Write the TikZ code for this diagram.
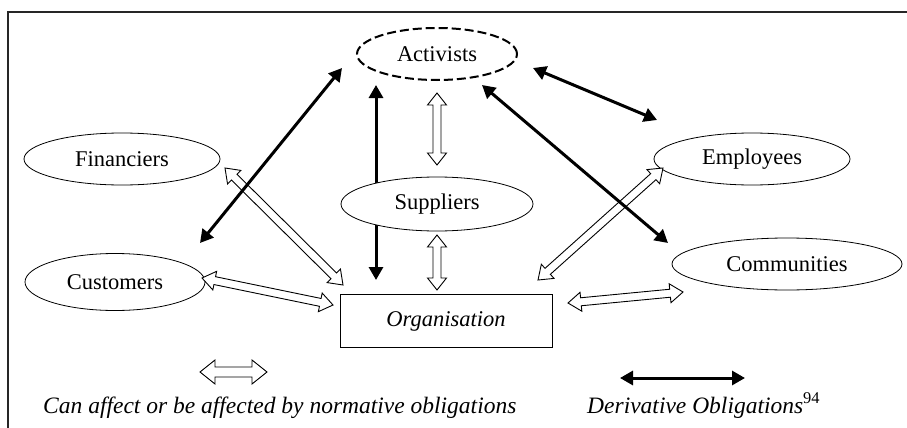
\documentclass[tikz,border=0pt]{standalone}
\usepackage{fontspec}
\setmainfont{Liberation Serif}
\usetikzlibrary{calc,arrows.meta,shapes.geometric}
% hollow block double arrow: #1 start, #2 end, #3 head length, #4 head half width, #5 shaft half width
\newcommand\hollowarr[5]{%
  \draw[hollowline] (#1) -- ($(#1)!#3!(#2)!#4!90:(#2)$) -- ($(#1)!#3!(#2)!#5!90:(#2)$)
    -- ($(#2)!#3!(#1)!#5!-90:(#1)$) -- ($(#2)!#3!(#1)!#4!-90:(#1)$) -- (#2)
    -- ($(#2)!#3!(#1)!#4!90:(#1)$) -- ($(#2)!#3!(#1)!#5!90:(#1)$)
    -- ($(#1)!#3!(#2)!#5!-90:(#2)$) -- ($(#1)!#3!(#2)!#4!-90:(#2)$) -- cycle;}
\tikzset{
  stake/.style={ellipse, draw, line width=0.8pt, fill=white, inner sep=0pt,
    font=\fontsize{22.5}{26}\selectfont},
  actstyle/.style={stake, line width=2pt, dash pattern=on 9pt off 4pt},
  orgbox/.style={rectangle, draw, line width=1pt, fill=white, inner sep=0pt,
    font=\fontsize{22.5}{26}\selectfont\itshape},
  hollowline/.style={draw=black, fill=white, line width=0.9pt, line join=miter},
  blk/.style={line width=3pt, {Triangle[length=13pt,width=14pt]}-{Triangle[length=13pt,width=14pt]}},
  legend/.style={anchor=base west, inner sep=0pt, font=\fontsize{23.5}{28}\selectfont\itshape},
  frame/.style={line width=2pt, draw=black!85}
}
\begin{document}
\begin{tikzpicture}[x=1pt,y=-1pt]
\useasboundingbox (0,0) rectangle (907,428);
\draw[frame] (907,12) -- (8,12) -- (8,428);

% endpoints of connectors
\coordinate (ao1) at (376,85);   \coordinate (ao2) at (376,280);
\coordinate (ca1) at (200,243);  \coordinate (ca2) at (342,68);
\coordinate (ae1) at (533,68);   \coordinate (ae2) at (657,120);
\coordinate (ac1) at (482,85);   \coordinate (ac2) at (668,243);
\coordinate (as1) at (437,93);   \coordinate (as2) at (437,165);
\coordinate (so1) at (437,235);  \coordinate (so2) at (437,290);
\coordinate (fo1) at (225,168);  \coordinate (fo2) at (343,285);
\coordinate (co1) at (202,278);  \coordinate (co2) at (333,305);
\coordinate (eo1) at (663,168);  \coordinate (eo2) at (538,280);
\coordinate (oc1) at (568,303);  \coordinate (oc2) at (683,292);
\coordinate (lh1) at (200,372);  \coordinate (lh2) at (267,372);
\coordinate (lb1) at (620,378);  \coordinate (lb2) at (745,378);

% Activists -- Organisation (passes behind Suppliers)
\draw[blk] (ao1) -- (ao2);

% nodes
\node[actstyle, minimum width=160pt, minimum height=52pt] (act) at (437,54) {Activists};
\node[stake, minimum width=196pt, minimum height=52pt] (fin) at (122,159) {Financiers};
\node[stake, minimum width=192pt, minimum height=54pt] (sup) at (437,204) {Suppliers};
\node[stake, minimum width=196pt, minimum height=52pt] (emp) at (752,159) {Employees};
\node[stake, minimum width=180pt, minimum height=57pt] (cus) at (115,282) {Customers};
\node[stake, minimum width=230pt, minimum height=52pt] (com) at (787,264) {Communities};
\node[orgbox, minimum width=212pt, minimum height=53pt] (org) at (446,321) {Organisation};

% hollow (normative) arrows
\hollowarr{as1}{as2}{12pt}{9.5pt}{4pt}
\hollowarr{so1}{so2}{12pt}{9.5pt}{4pt}
\hollowarr{fo1}{fo2}{13pt}{9.5pt}{4pt}
\hollowarr{co1}{co2}{13pt}{9.5pt}{4pt}
\hollowarr{eo1}{eo2}{13pt}{9.5pt}{4pt}
\hollowarr{oc1}{oc2}{13pt}{9.5pt}{4pt}

% derivative obligations
\draw[blk] (ca1) -- (ca2);
\draw[blk] (ae1) -- (ae2);
\draw[blk] (ac1) -- (ac2);

% legend
\hollowarr{lh1}{lh2}{15pt}{12pt}{5pt}
\draw[blk] (lb1) -- (lb2);
\node[legend] (l1) at (43,413) {Can affect or be affected by normative obligations};
\node[legend] (l2) at (587,413) {Derivative Obligations\textup{\textsuperscript{94}}};
\end{tikzpicture}
\end{document}
